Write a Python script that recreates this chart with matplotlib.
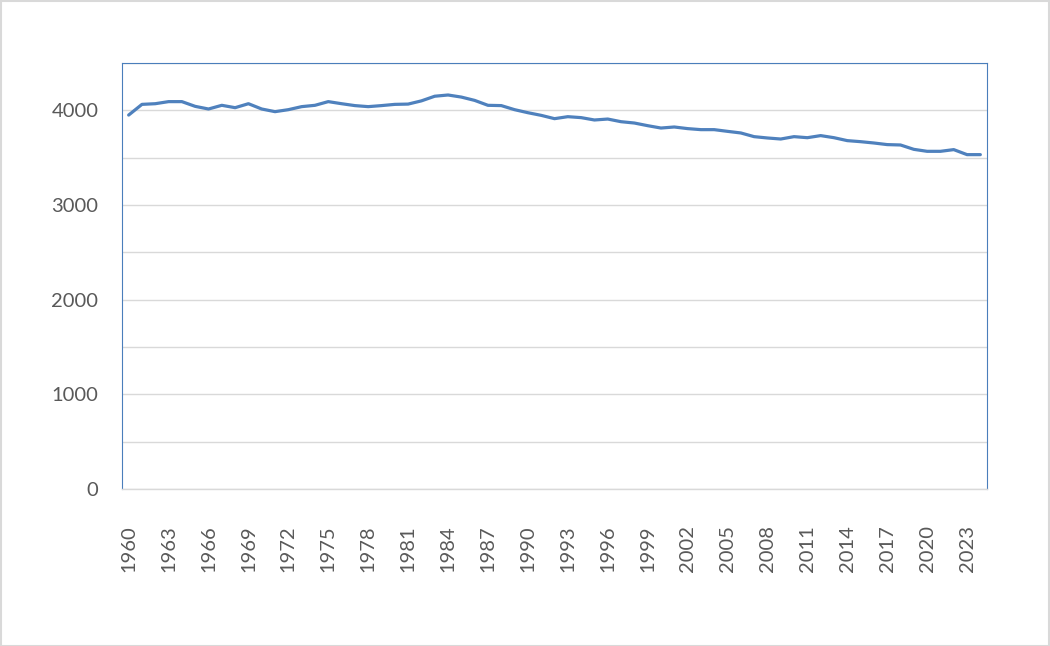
import numpy as np
import matplotlib.pyplot as plt
from matplotlib.patches import Rectangle

# yearly values
years = list(range(1960, 2025))
values = [3950, 4063, 4070, 4092, 4092, 4042, 4014, 4053, 4028, 4070,
          4014, 3986, 4007, 4039, 4053, 4092, 4070, 4050, 4039, 4050,
          4063, 4066, 4100, 4149, 4162, 4140, 4105, 4053, 4050, 4007,
          3975, 3947, 3912, 3933, 3923, 3898, 3908, 3880, 3866, 3838,
          3813, 3824, 3807, 3796, 3796, 3778, 3761, 3722, 3708, 3697,
          3722, 3711, 3733, 3711, 3680, 3669, 3655, 3638, 3634, 3588,
          3567, 3567, 3585, 3532, 3532]
tick_years = years[::3]

plt.rcParams['font.family'] = ['Lato', 'DejaVu Sans']

fig = plt.figure(figsize=(10.5, 6.46), dpi=100)
W, H = 1050, 646
ax = fig.add_axes([122 / W, 1 - 489 / H, (987 - 122) / W, (489 - 63) / H])

x = np.arange(len(years))
ax.plot(x, values, color='#4f81bd', linewidth=2.3, solid_capstyle='round')

ax.set_xlim(-0.5, len(years) - 0.5)
ax.set_ylim(0, 4500)
ax.set_yticks(np.arange(0, 4501, 1000))
ax.set_yticks(np.arange(0, 4501, 500), minor=True)
ax.grid(True, which='both', axis='y', color='#d9d9d9', linewidth=1)
ax.set_axisbelow(True)

idx = [years.index(y) for y in tick_years]
ax.set_xticks(idx)
ax.set_xticklabels([str(y) for y in tick_years], rotation=90)
ax.tick_params(axis='x', length=0, pad=26, labelsize=14.5, labelcolor='#595959')
ax.tick_params(axis='y', which='both', length=0, pad=17, labelsize=14.5, labelcolor='#595959')

for side in ['left', 'top', 'right']:
    ax.spines[side].set_color('#4a7ebb')
    ax.spines[side].set_linewidth(0.8)
ax.spines['bottom'].set_color('#d9d9d9')
ax.spines['bottom'].set_linewidth(1)

# outer chart border
fig.patches.append(Rectangle((0.5 / W, 0.5 / H), 1 - 1.5 / W, 1 - 1.5 / H,
                             transform=fig.transFigure, fill=False,
                             edgecolor='#d9d9d9', linewidth=1.5))

fig.savefig('out.png', dpi=100)
